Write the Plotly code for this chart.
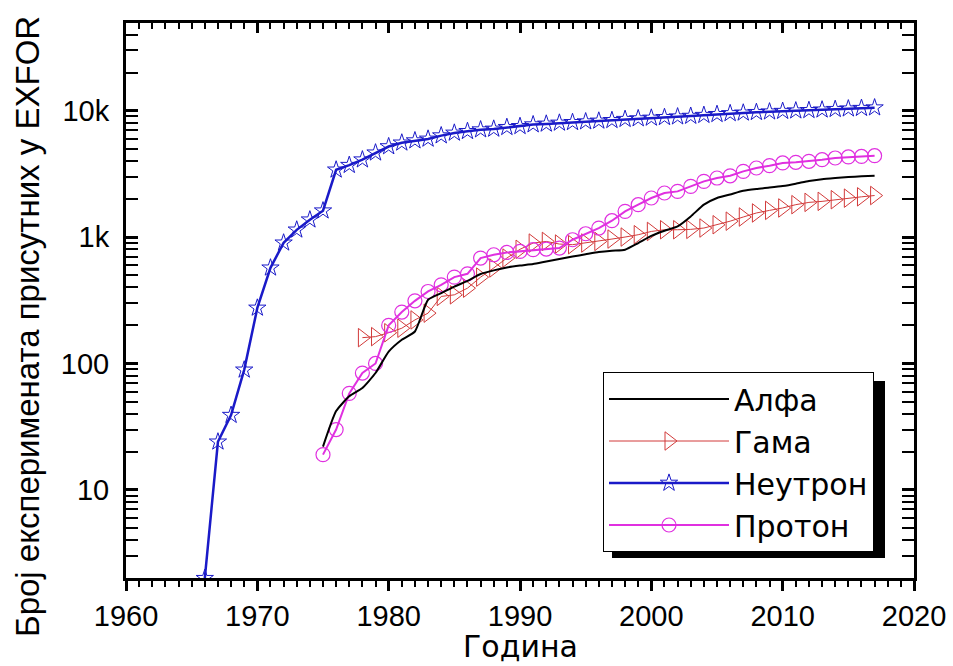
import plotly.graph_objects as go

# ---- data ----
x_ticks = [1960, 1970, 1980, 1990, 2000, 2010, 2020]
y_tickvals = [10, 100, 1000, 10000]
y_ticktext = ["10", "100", "1k", "10k"]
y_minor_vals = [m * d for d in (1, 10, 100, 1000, 10000) for m in range(2, 10)]

alpha_years = list(range(1975, 2018))
alpha = [22, 42, 55, 64, 84, 124, 154, 179, 319, 360,
         405, 450, 510, 545, 575, 595, 612, 641, 670, 701,
         730, 760, 780, 794, 896, 1020, 1120, 1213, 1456, 1803,
         2037, 2170, 2320, 2400, 2460, 2530, 2640, 2780, 2870, 2930,
         2985, 3020, 3057]

gamma_years = list(range(1978, 2018))
gamma = [160, 163, 175, 190, 221, 250, 339, 349, 394, 482,
         569, 682, 800, 896, 923, 880, 870, 897, 923, 964,
         1000, 1043, 1107, 1142, 1142, 1150, 1178, 1251, 1335, 1440,
         1550, 1625, 1698, 1803, 1880, 1915, 1974, 2030, 2080, 2130]

neutron_years = list(range(1966, 2018))
neutron = [2, 24, 39, 89, 275, 571, 900, 1140, 1370, 1615,
           3400, 3700, 4090, 4640, 5200, 5560, 5790, 5970, 6340, 6660,
           6860, 7070, 7160, 7380, 7510, 7750, 7850, 7990, 8080, 8180,
           8290, 8380, 8550, 8650, 8750, 8850, 8950, 9050, 9200, 9350,
           9500, 9600, 9700, 9800, 9900, 9980, 10050, 10150, 10250, 10350,
           10450, 10550]

proton_years = list(range(1975, 2018))
proton = [19, 30, 58, 84, 100, 200, 255, 313, 371, 419,
          482, 512, 682, 724, 755, 769, 794, 803, 818, 952,
          1062, 1178, 1346, 1596, 1803, 2036, 2230, 2297, 2516, 2755,
          2930, 3050, 3306, 3516, 3670, 3854, 3900, 3970, 4090, 4220,
          4300, 4340, 4400]

y_title = "Број експеримената присутних у EXFOR"
x_title = "Година"

# ---- figure ----
BLUE = "#1a1ac8"
RED = "#d23a3a"
MAGENTA = "#e030e0"

fig = go.Figure()
fig.add_trace(go.Scatter(x=alpha_years, y=alpha, name="Алфа", mode="lines",
                         xaxis="x2", yaxis="y",
                         line=dict(color="black", width=2, shape="spline", smoothing=0.5)))
fig.add_trace(go.Scatter(x=gamma_years, y=gamma, name="Гама", mode="lines+markers",
                         line=dict(color=RED, width=1),
                         marker=dict(symbol="triangle-right-open", size=16, color=RED,
                                     line=dict(width=1))))
fig.add_trace(go.Scatter(x=neutron_years, y=neutron, name="Неутрон", mode="lines+markers",
                         line=dict(color=BLUE, width=2.5),
                         marker=dict(symbol="star-open", size=13, color=BLUE,
                                     line=dict(width=1))))
fig.add_trace(go.Scatter(x=proton_years, y=proton, name="Протон", mode="lines+markers",
                         line=dict(color=MAGENTA, width=2),
                         marker=dict(symbol="circle-open", size=14, color=MAGENTA,
                                     line=dict(width=1.2))))

L, R, T, B = 126, 39, 23, 88
W, H = 953, 666
pw, ph = W - L - R, H - T - B

def px_x(px):
    return (px - L) / pw

def px_y(py):
    return (H - B - py) / ph

# legend drop shadow
fig.add_shape(type="rect", xref="paper", yref="paper",
              x0=px_x(612), x1=px_x(885), y0=px_y(558), y1=px_y(381),
              fillcolor="black", line=dict(width=0), layer="above")

# axis titles (placed like the reference)
fig.add_annotation(text=y_title, xref="paper", yref="paper",
                   x=px_x(27), y=px_y(327), xanchor="center", yanchor="middle",
                   textangle=-90, showarrow=False,
                   font=dict(family="Liberation Sans, Arial", size=33, color="black"))
fig.add_annotation(text=x_title, xref="paper", yref="paper",
                   x=0.5, y=px_y(665), xanchor="center", yanchor="bottom",
                   showarrow=False, borderpad=0,
                   font=dict(family="DejaVu Sans", size=30, color="black"))

tickfont = dict(family="Liberation Sans, Arial", size=29, color="black")
axis_common = dict(tickcolor="black", showgrid=False, zeroline=False, automargin=False)

fig.update_layout(
    width=W, height=H,
    margin=dict(l=L, r=R, t=T, b=B),
    plot_bgcolor="white", paper_bgcolor="white",
    showlegend=True,
    legend=dict(x=px_x(603), y=px_y(372), xanchor="left", yanchor="top",
                bgcolor="white", bordercolor="black", borderwidth=1,
                font=dict(family="DejaVu Sans", size=30, color="black"),
                itemwidth=120, tracegroupgap=0),
    xaxis=dict(range=[1960, 2020], tickmode="array", tickvals=x_ticks,
               ticks="outside", ticklen=10, tickwidth=3,
               showline=True, linewidth=3, linecolor="black", mirror=True,
               tickfont=tickfont,
               minor=dict(dtick=1, tick0=1960, ticks="outside", ticklen=6, tickwidth=2,
                          tickcolor="black", showgrid=False),
               **axis_common),
    xaxis2=dict(range=[1960, 2020], overlaying="x", side="top", anchor="y",
                tickmode="array", tickvals=x_ticks,
                ticks="inside", ticklen=10, tickwidth=3,
                showticklabels=False, showline=False,
                minor=dict(dtick=1, tick0=1960, ticks="inside", ticklen=6, tickwidth=2,
                           tickcolor="black", showgrid=False),
                **axis_common),
    yaxis=dict(type="log", range=[0.303, 4.693], tickmode="array",
               tickvals=y_tickvals, ticktext=y_ticktext,
               ticks="inside", ticklen=12, tickwidth=3,
               showline=True, linewidth=3, linecolor="black", mirror="allticks",
               tickfont=tickfont, ticklabelstandoff=8,
               minor=dict(tickmode="array", tickvals=y_minor_vals, ticks="inside",
                          ticklen=6, tickwidth=2, tickcolor="black", showgrid=False),
               **axis_common),
)

fig.write_html("out.html")
